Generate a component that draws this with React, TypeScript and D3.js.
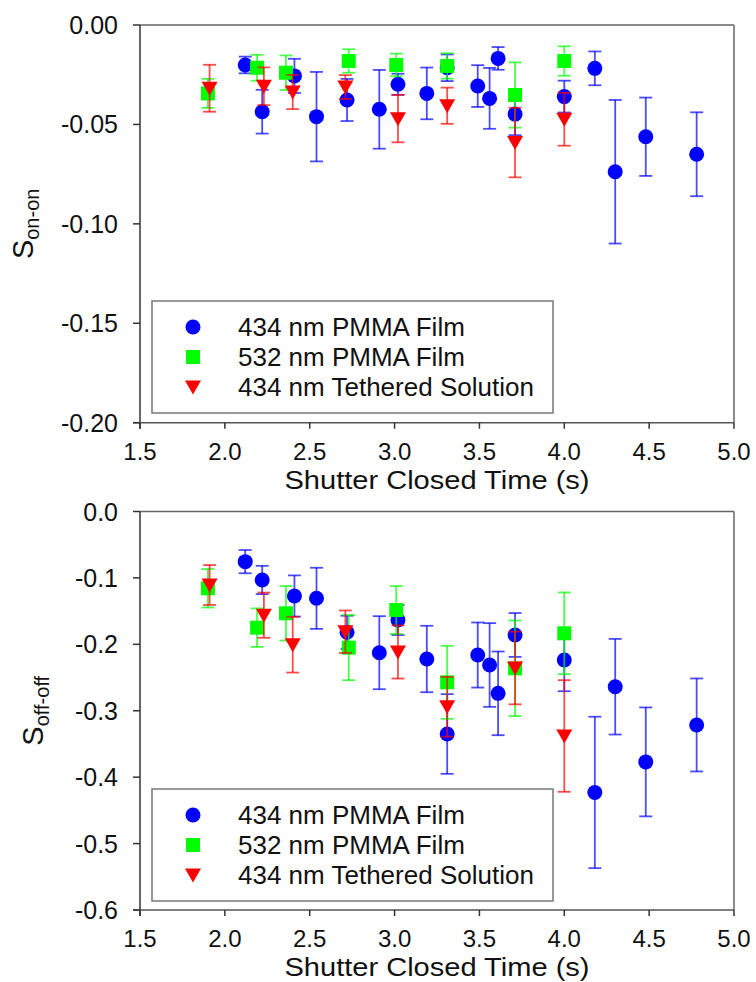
import React from 'react';
import * as d3 from 'd3';

// ---- data ----
const xTickValues = [1.5, 2.0, 2.5, 3.0, 3.5, 4.0, 4.5, 5.0];
const topYTickValues = [0, -0.05, -0.1, -0.15, -0.2];
const botYTickValues = [0, -0.1, -0.2, -0.3, -0.4, -0.5, -0.6];
const seriesNames = ['434 nm PMMA Film', '532 nm PMMA Film', '434 nm Tethered Solution'];

const blueT = [2.12, 2.22, 2.41, 2.54, 2.72, 2.91, 3.02, 3.19, 3.31, 3.49, 3.56, 3.61, 3.71, 4.0, 4.18, 4.3, 4.48, 4.78];
const greenT = [1.9, 2.19, 2.36, 2.73, 3.01, 3.31, 3.71, 4.0];
const redT = [1.91, 2.23, 2.4, 2.71, 3.02, 3.31, 3.71, 4.0];

const onBlue = [-0.0201, -0.0436, -0.0256, -0.0461, -0.0377, -0.0424, -0.0298, -0.0344, -0.0215, -0.0307, -0.0369, -0.0168, -0.0448, -0.036, -0.0218, -0.0738, -0.0562, -0.065];
const onBlueErr = [0.0042, 0.011, 0.0086, 0.0225, 0.0106, 0.0198, 0.0053, 0.013, 0.0067, 0.0105, 0.0153, 0.0057, 0.0106, 0.008, 0.0085, 0.0361, 0.0197, 0.0211];
const onGreen = [-0.0344, -0.0215, -0.024, -0.0181, -0.0201, -0.0206, -0.0352, -0.0181];
const onGreenErr = [0.0073, 0.0065, 0.0087, 0.0059, 0.0057, 0.0064, 0.0164, 0.0074];
const onRed = [-0.0318, -0.0308, -0.0337, -0.0312, -0.0471, -0.0406, -0.0591, -0.0474];
const onRedErr = [0.0118, 0.0095, 0.0086, 0.006, 0.0119, 0.0091, 0.0175, 0.0133];

const offBlue = [-0.0755, -0.1031, -0.1272, -0.1307, -0.1819, -0.2126, -0.1634, -0.2221, -0.335, -0.2161, -0.2311, -0.2738, -0.1859, -0.2236, -0.423, -0.2638, -0.377, -0.3214];
const offBlueErr = [0.0175, 0.0213, 0.031, 0.046, 0.025, 0.055, 0.0226, 0.05, 0.06, 0.049, 0.063, 0.063, 0.033, 0.047, 0.114, 0.072, 0.082, 0.07];
const offGreen = [-0.1156, -0.1749, -0.1533, -0.205, -0.1483, -0.2572, -0.2361, -0.1834];
const offGreenErr = [0.029, 0.029, 0.041, 0.049, 0.036, 0.055, 0.072, 0.0615];
const offRed = [-0.1107, -0.1561, -0.2005, -0.181, -0.2115, -0.294, -0.2356, -0.338];
const offRedErr = [0.03, 0.034, 0.042, 0.032, 0.04, 0.045, 0.0547, 0.084];

const COLORS = ['#0000ff', '#00ff00', '#ff0000'];
const KINDS = ['circle', 'square', 'triangle'];
const FONT = 'Liberation Sans, Arial, sans-serif';

type Series = { t: number[]; v: number[]; e: number[] };

function Marker({ kind, x, y, color }: { kind: string; x: number; y: number; color: string }) {
  if (kind === 'circle') return <circle cx={x} cy={y} r={7.5} fill={color} />;
  if (kind === 'square') return <rect x={x - 7} y={y - 7} width={14} height={14} fill={color} />;
  return <path d={`M${x - 8},${y - 6.5}L${x + 8},${y - 6.5}L${x},${y + 7.5}Z`} fill={color} />;
}

function Panel({ top, bottom, domain, yTicks, fmt, series, sub, titleX, legendTop }: {
  top: number; bottom: number; domain: [number, number]; yTicks: number[]; fmt: string;
  series: Series[]; sub: string; titleX: number; legendTop: number;
}) {
  const x = d3.scaleLinear().domain([1.5, 5.0]).range([140, 734]);
  const y = d3.scaleLinear().domain(domain).range([bottom, top]);
  const f = d3.format(fmt);
  const mid = (top + bottom) / 2;
  return (
    <g>
      {/* frame */}
      <line x1={140} x2={734} y1={top} y2={top} stroke="#666" strokeWidth={1.5} />
      <line x1={734} x2={734} y1={top} y2={bottom} stroke="#666" strokeWidth={1.5} />
      {/* error bars + markers */}
      {series.map((s, si) => (
        <g key={si}>
          {s.t.map((t, i) => {
            const cx = x(t);
            const y1 = y(s.v[i] + s.e[i]);
            const y2 = y(s.v[i] - s.e[i]);
            return (
              <g key={i} stroke={COLORS[si]} strokeWidth={1.8} strokeOpacity={0.7}>
                <line x1={cx} x2={cx} y1={y1} y2={y2} />
                <line x1={cx - 6.5} x2={cx + 6.5} y1={y1} y2={y1} />
                <line x1={cx - 6.5} x2={cx + 6.5} y1={y2} y2={y2} />
              </g>
            );
          })}
          {s.t.map((t, i) => (
            <Marker key={'m' + i} kind={KINDS[si]} x={x(t)} y={y(s.v[i])} color={COLORS[si]} />
          ))}
        </g>
      ))}
      {/* axes */}
      <line x1={140} x2={140} y1={top} y2={bottom + 6} stroke="#333" strokeWidth={1.5} />
      <line x1={133} x2={734} y1={bottom} y2={bottom} stroke="#555" strokeWidth={1.5} />
      {yTicks.map((v) => (
        <g key={v}>
          <line x1={133} x2={140} y1={y(v)} y2={y(v)} stroke="#333" strokeWidth={1.5} />
          <text x={118} y={y(v)} dy="0.36em" textAnchor="end" fontSize={25} fontFamily={FONT} fill="#111">
            {f(v).replace('−', '-')}
          </text>
        </g>
      ))}
      {xTickValues.map((v) => (
        <g key={v}>
          <line x1={x(v)} x2={x(v)} y1={bottom} y2={bottom + 6} stroke="#333" strokeWidth={1.5} />
          <text x={x(v)} y={bottom + 37} textAnchor="middle" fontSize={24} fontFamily={FONT} fill="#111">
            {d3.format('.1f')(v)}
          </text>
        </g>
      ))}
      <text x={437} y={bottom + 66} textAnchor="middle" fontSize={26} textLength={305}
        lengthAdjust="spacingAndGlyphs" fontFamily={FONT} fill="#111">
        Shutter Closed Time (s)
      </text>
      <text transform={`translate(${titleX},${mid}) rotate(-90)`} textAnchor="middle" fontFamily={FONT} fill="#111">
        <tspan fontSize={29}>S</tspan>
        <tspan fontSize={20} dy={6}>{sub}</tspan>
      </text>
      {/* legend */}
      <rect x={152} y={legendTop} width={401} height={112} fill="#fff" stroke="#777" strokeWidth={1.5} />
      {seriesNames.map((n, i) => {
        const ry = legendTop + 26 + i * 30;
        return (
          <g key={n}>
            <Marker kind={KINDS[i]} x={193} y={ry} color={COLORS[i]} />
            <text x={238} y={ry} dy="0.36em" fontSize={26} fontFamily={FONT} fill="#111">{n}</text>
          </g>
        );
      })}
    </g>
  );
}

export default function App() {
  const onSeries: Series[] = [
    { t: blueT, v: onBlue, e: onBlueErr },
    { t: greenT, v: onGreen, e: onGreenErr },
    { t: redT, v: onRed, e: onRedErr },
  ];
  const offSeries: Series[] = [
    { t: blueT, v: offBlue, e: offBlueErr },
    { t: greenT, v: offGreen, e: offGreenErr },
    { t: redT, v: offRed, e: offRedErr },
  ];
  return (
    <svg width={756} height={982} style={{ position: 'absolute', left: 0, top: 0, background: '#fff' }}>
      <rect width={756} height={982} fill="#fff" />
      <Panel top={25} bottom={422.7} domain={[-0.2, 0]} yTicks={topYTickValues} fmt=".2f"
        series={onSeries} sub="on-on" titleX={33} legendTop={301} />
      <Panel top={511.5} bottom={910} domain={[-0.6, 0]} yTicks={botYTickValues} fmt=".1f"
        series={offSeries} sub="off-off" titleX={43} legendTop={789} />
    </svg>
  );
}
